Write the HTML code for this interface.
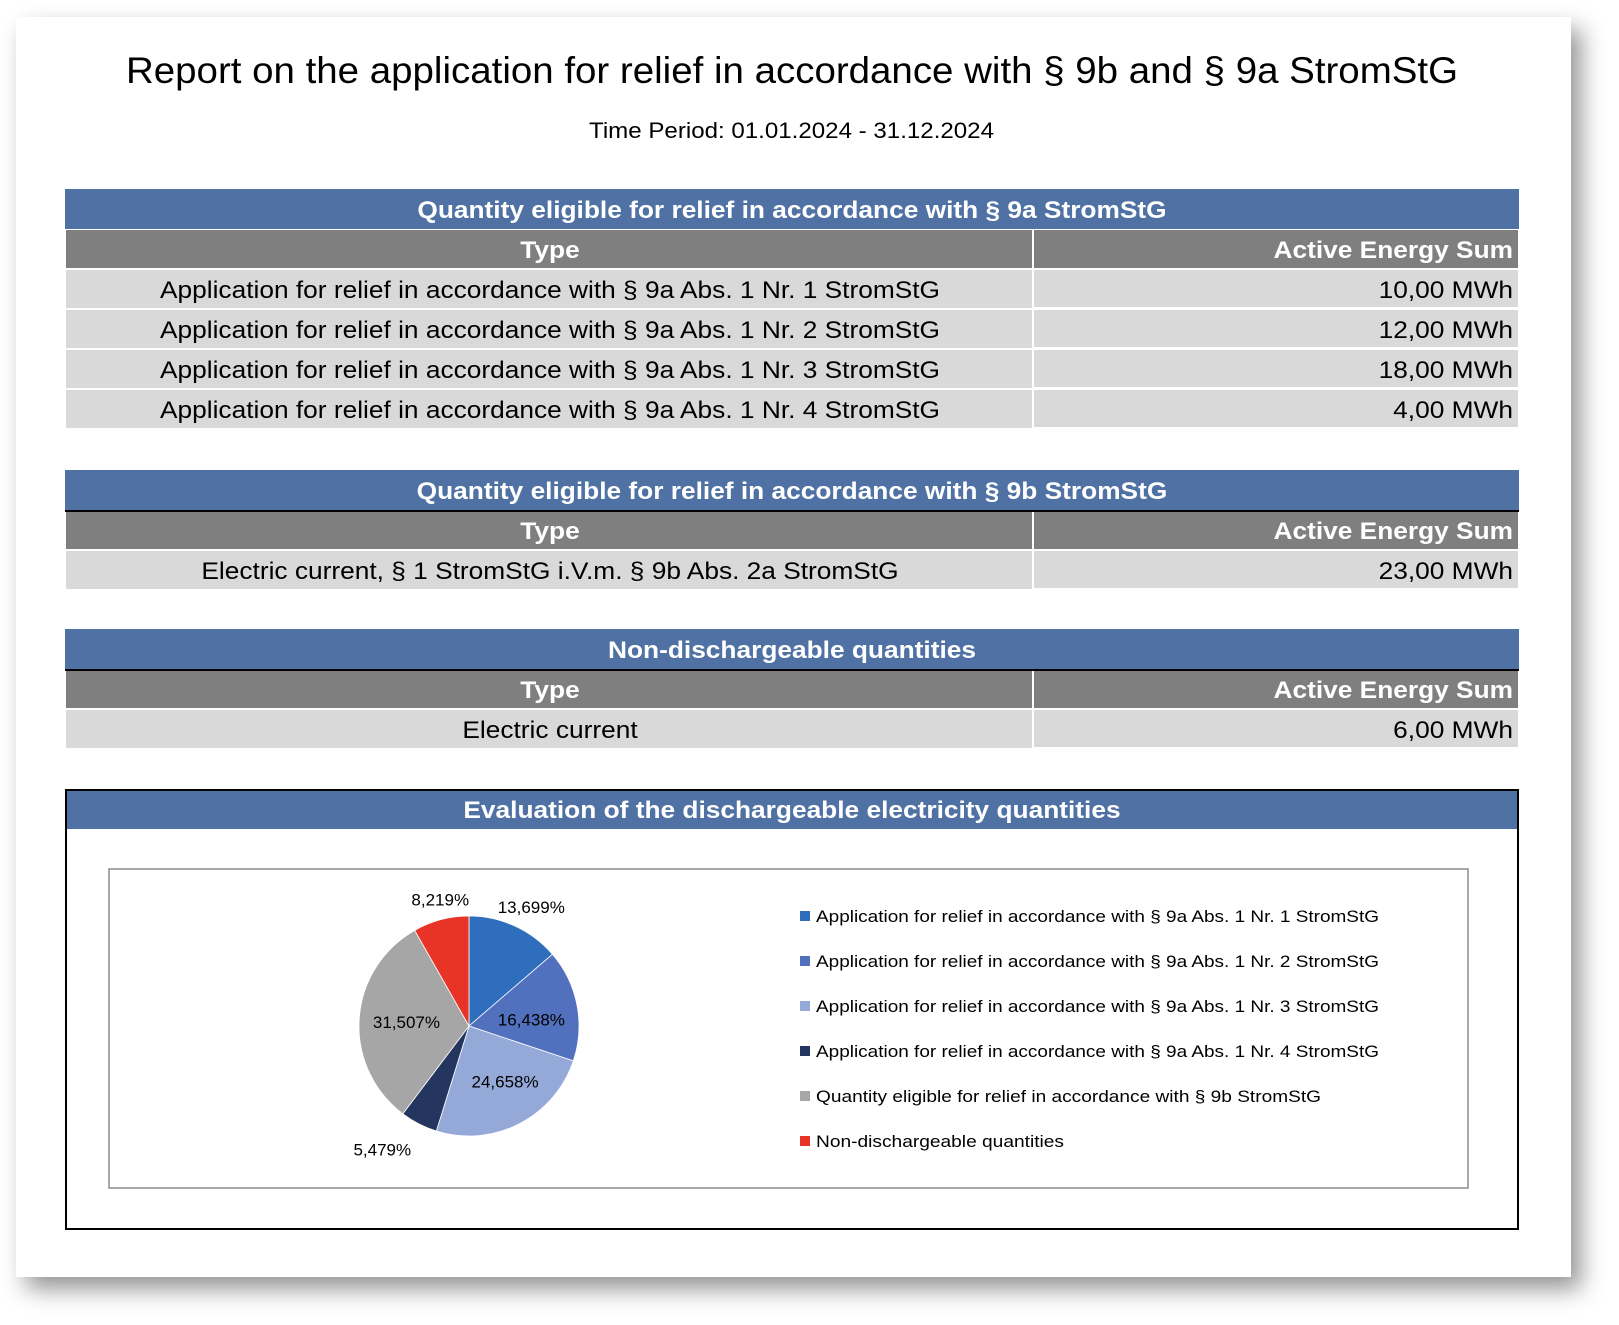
<!DOCTYPE html>
<html><head><meta charset="utf-8"><style>
html,body{margin:0;padding:0;background:#fff;width:1619px;height:1325px;overflow:hidden}
#card{position:absolute;left:16px;top:17px;width:1555px;height:1260px;background:#fff;box-shadow:10px 12px 22px rgba(0,0,0,0.42)}
svg{position:absolute;left:0;top:0}
text{font-family:"Liberation Sans",sans-serif}
</style></head><body>
<div id="card"></div>
<svg id="s" width="1619" height="1325" viewBox="0 0 1619 1325">
<text x="126" y="83" font-size="37" textLength="1332" lengthAdjust="spacingAndGlyphs">Report on the application for relief in accordance with § 9b and § 9a StromStG</text>
<text x="589" y="138" font-size="22" textLength="405" lengthAdjust="spacingAndGlyphs">Time Period: 01.01.2024 - 31.12.2024</text>
<g id="tables"></g>
<g>
<rect x="65" y="790" width="1454" height="39" fill="#4F71A3"/>
<line x1="65" y1="790" x2="1519" y2="790" stroke="#000" stroke-width="2"/>
<text class="wide" x="792" y="818" font-size="24" font-weight="bold" fill="#fff" text-anchor="middle">Evaluation of the dischargeable electricity quantities</text>
<rect x="66" y="790" width="1452" height="439" fill="none" stroke="#000" stroke-width="2"/>
<rect x="109" y="869" width="1359" height="319" fill="none" stroke="#8c8c8c" stroke-width="1.5"/>
<g id="pie"></g><g id="legend"></g>
</g>
</svg>
<script>
const NS='http://www.w3.org/2000/svg';
function mk(tag,attrs,parent,txt){const e=document.createElementNS(NS,tag);for(const k in attrs)e.setAttribute(k,attrs[k]);if(txt!==undefined)e.textContent=txt;parent.appendChild(e);return e;}
const tables=document.getElementById('tables');
const tableTitles=['Quantity eligible for relief in accordance with § 9a StromStG','Quantity eligible for relief in accordance with § 9b StromStG','Non-dischargeable quantities'];
const tableTops=[189,470,629];
const tableRows=[
 [['Application for relief in accordance with § 9a Abs. 1 Nr. 1 StromStG','10,00 MWh'],['Application for relief in accordance with § 9a Abs. 1 Nr. 2 StromStG','12,00 MWh'],['Application for relief in accordance with § 9a Abs. 1 Nr. 3 StromStG','18,00 MWh'],['Application for relief in accordance with § 9a Abs. 1 Nr. 4 StromStG','4,00 MWh']],
 [['Electric current, § 1 StromStG i.V.m. § 9b Abs. 2a StromStG','23,00 MWh']],
 [['Electric current','6,00 MWh']]];
tableTitles.forEach((t,i)=>{
 const g=mk('g',{},tables);
 
 
 const y=tableTops[i];
 const hb=mk('rect',{x:65,y:y,width:1454,height:40,fill:'#4F71A3'},g);
 
 
 const ht=mk('text',{class:'wide',x:792,y:y+29,'font-size':24,'font-weight':'bold',fill:'#fff','text-anchor':'middle'},g,t);
 
 
 const gy=y+41;
 mk('rect',{x:66,y:gy,width:966,height:38,fill:'#7F7F7F'},g);
 mk('rect',{x:1034,y:gy,width:484,height:38,fill:'#7F7F7F'},g);
 if(i>0)mk('line',{x1:65,y1:gy,x2:1519,y2:gy,stroke:'#000','stroke-width':2},g);
 const th=mk('text',{class:'wide',x:550,y:gy+28,'font-size':24,'font-weight':'bold',fill:'#fff','text-anchor':'middle'},g,'Type');
 
 
 const th2=mk('text',{class:'wide',x:1513,y:gy+28,'font-size':24,'font-weight':'bold',fill:'#fff','text-anchor':'end'},g,'Active Energy Sum');
 
 
 tableRows[i].forEach((r,j)=>{
  const ry=gy+40+j*40;
  mk('rect',{x:66,y:ry,width:966,height:38,fill:'#D9D9D9'},g);
  mk('rect',{x:1034,y:ry,width:484,height:37,fill:'#D9D9D9'},g);
  const a=mk('text',{class:'wide',x:550,y:ry+28,'font-size':24,fill:'#000','text-anchor':'middle'},g,r[0]);
  
  
  const b=mk('text',{class:'wide',x:1513,y:ry+28,'font-size':24,fill:'#000','text-anchor':'end'},g,r[1]);
  
  
 });
});
document.querySelectorAll('text.wide').forEach(e=>{
 const w=e.getComputedTextLength();
 e.setAttribute('textLength',(w*1.095).toFixed(1));
 e.setAttribute('lengthAdjust','spacingAndGlyphs');
});
// pie data
const categories=['Application for relief in accordance with § 9a Abs. 1 Nr. 1 StromStG','Application for relief in accordance with § 9a Abs. 1 Nr. 2 StromStG','Application for relief in accordance with § 9a Abs. 1 Nr. 3 StromStG','Application for relief in accordance with § 9a Abs. 1 Nr. 4 StromStG','Quantity eligible for relief in accordance with § 9b StromStG','Non-dischargeable quantities'];
const values=[10,12,18,4,23,6];
const pctLabels=['13,699%','16,438%','24,658%','5,479%','31,507%','8,219%'];
const colors=['#2E6EBD','#5171BE','#94A9D8','#243660','#A6A6A6','#E83426'];
// label placement styling (radius factor, angle nudge in degrees)
const labelRadius=[1.22,0.57,0.6,1.37,0.57,1.18];
const labelNudge=[3,5,-6,8,0,2];
const cx=469,cy=1026,R=110;
const total=values.reduce((a,b)=>a+b,0);
function ang(v){return v/total*2*Math.PI;}
function pt(a,r){return [cx+r*Math.sin(a),cy-r*Math.cos(a)];}
const pie=document.getElementById('pie');
let acc=0;
values.forEach((v,i)=>{
 const a0=ang(acc),a1=ang(acc+v);acc+=v;
 const p0=pt(a0,R),p1=pt(a1,R);
 const d=`M${cx},${cy} L${p0[0]},${p0[1]} A${R},${R} 0 ${a1-a0>Math.PI?1:0} 1 ${p1[0]},${p1[1]} Z`;
 const s=mk('path',{d:d,fill:colors[i],stroke:'#fff','stroke-width':0.8},pie);
 
 
 const mid=(a0+a1)/2+labelNudge[i]*Math.PI/180;
 const p=pt(mid,R*labelRadius[i]);
 const t=mk('text',{x:p[0],y:p[1]+6,'font-size':17,fill:'#000','text-anchor':'middle'},pie,pctLabels[i]);
 
 
});
const legend=document.getElementById('legend');
const legendWidths=[563,563,563,563,505,248];
categories.forEach((c,i)=>{
 const y=916+i*45;
 const g=mk('g',{},legend);
 
 
 mk('rect',{x:800,y:y-5,width:10,height:10,fill:colors[i]},g);
 mk('text',{x:816,y:y+6,'font-size':17,fill:'#000',textLength:legendWidths[i],lengthAdjust:'spacingAndGlyphs'},g,c);
});
</script>
</body></html>
